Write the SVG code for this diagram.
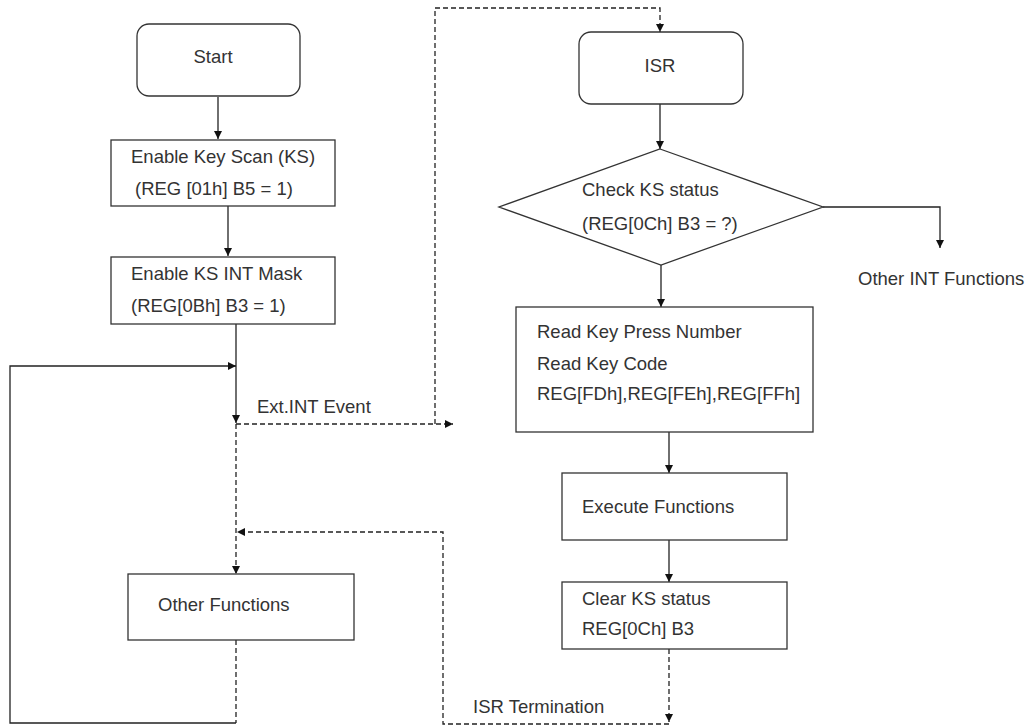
<svg xmlns="http://www.w3.org/2000/svg" width="1036" height="727" viewBox="0 0 1036 727">
<defs>
<marker id="ah" markerWidth="9" markerHeight="9" refX="8" refY="4" orient="auto" markerUnits="userSpaceOnUse">
<path d="M0,0 L8,4 L0,8 z" fill="#111"/>
</marker>
<style>
.box{fill:#fff;stroke:#333;stroke-width:1.3}
.t{font-family:"Liberation Sans",Arial,sans-serif;font-size:18.5px;fill:#333}
.c{fill:none;stroke:#222;stroke-width:1.3}
.d{fill:none;stroke:#222;stroke-width:1.3;stroke-dasharray:5,3}
</style>
</defs>
<rect width="1036" height="727" fill="#fff"/>
<g id="connectors">
<path class="c" d="M218,97 L218,139" marker-end="url(#ah)"/>
<path class="c" d="M228,206 L228,256" marker-end="url(#ah)"/>
<path class="c" d="M236,324 L236,423" marker-end="url(#ah)"/>
<path class="c" d="M236,723 L10,723 L10,366 L236,366" marker-end="url(#ah)"/>
<path class="d" d="M236,424 L453,424" marker-end="url(#ah)"/>
<path class="d" d="M435,424 L435,8 L660,8 L660,32" marker-end="url(#ah)"/>
<path class="d" d="M236,424 L236,574" marker-end="url(#ah)"/>
<path class="d" d="M236,640 L236,723"/>
<path class="d" d="M669,649 L669,722" marker-end="url(#ah)"/>
<path class="d" d="M669,724 L443,724 L443,532 L237,532" marker-end="url(#ah)"/>
<path class="c" d="M660,104 L660,149" marker-end="url(#ah)"/>
<path class="c" d="M823,207 L940,207 L940,248" marker-end="url(#ah)"/>
<path class="c" d="M661,265 L661,307" marker-end="url(#ah)"/>
<path class="c" d="M669,432 L669,473" marker-end="url(#ah)"/>
<path class="c" d="M669,540 L669,582" marker-end="url(#ah)"/>
</g>
<g id="start">
<rect class="box" x="137" y="24" width="163" height="72" rx="12"/>
<text class="t" x="213" y="63" text-anchor="middle">Start</text>
</g>
<g id="enable-ks">
<rect class="box" x="111" y="140" width="224" height="66"/>
<text class="t" x="131" y="163">Enable Key Scan (KS)</text>
<text class="t" x="135" y="195">(REG [01h] B5 = 1)</text>
</g>
<g id="enable-mask">
<rect class="box" x="111" y="257" width="224" height="67"/>
<text class="t" x="131" y="280">Enable KS INT Mask</text>
<text class="t" x="131" y="312">(REG[0Bh] B3 = 1)</text>
</g>
<g id="ext-int-label">
<text class="t" x="257" y="413">Ext.INT Event</text>
</g>
<g id="other-functions">
<rect class="box" x="128" y="574" width="226" height="66"/>
<text class="t" x="158" y="611">Other Functions</text>
</g>
<g id="isr">
<rect class="box" x="579" y="32" width="164" height="72" rx="12"/>
<text class="t" x="660" y="72" text-anchor="middle">ISR</text>
</g>
<g id="check-ks">
<polygon class="box" points="660,149 823,207 661,265 499,207"/>
<text class="t" x="582" y="196">Check KS status</text>
<text class="t" x="582" y="230">(REG[0Ch] B3 = ?)</text>
</g>
<g id="other-int">
<text class="t" x="858" y="285">Other INT Functions</text>
</g>
<g id="read-key">
<rect class="box" x="516" y="307" width="297" height="125"/>
<text class="t" x="537" y="338">Read Key Press Number</text>
<text class="t" x="537" y="370">Read Key Code</text>
<text class="t" x="537" y="400">REG[FDh],REG[FEh],REG[FFh]</text>
</g>
<g id="execute">
<rect class="box" x="562" y="473" width="225" height="67"/>
<text class="t" x="582" y="513">Execute Functions</text>
</g>
<g id="clear-ks">
<rect class="box" x="562" y="582" width="225" height="67"/>
<text class="t" x="582" y="605">Clear KS status</text>
<text class="t" x="582" y="635">REG[0Ch] B3</text>
</g>
<g id="isr-term-label">
<text class="t" x="473" y="713">ISR Termination</text>
</g>
</svg>
